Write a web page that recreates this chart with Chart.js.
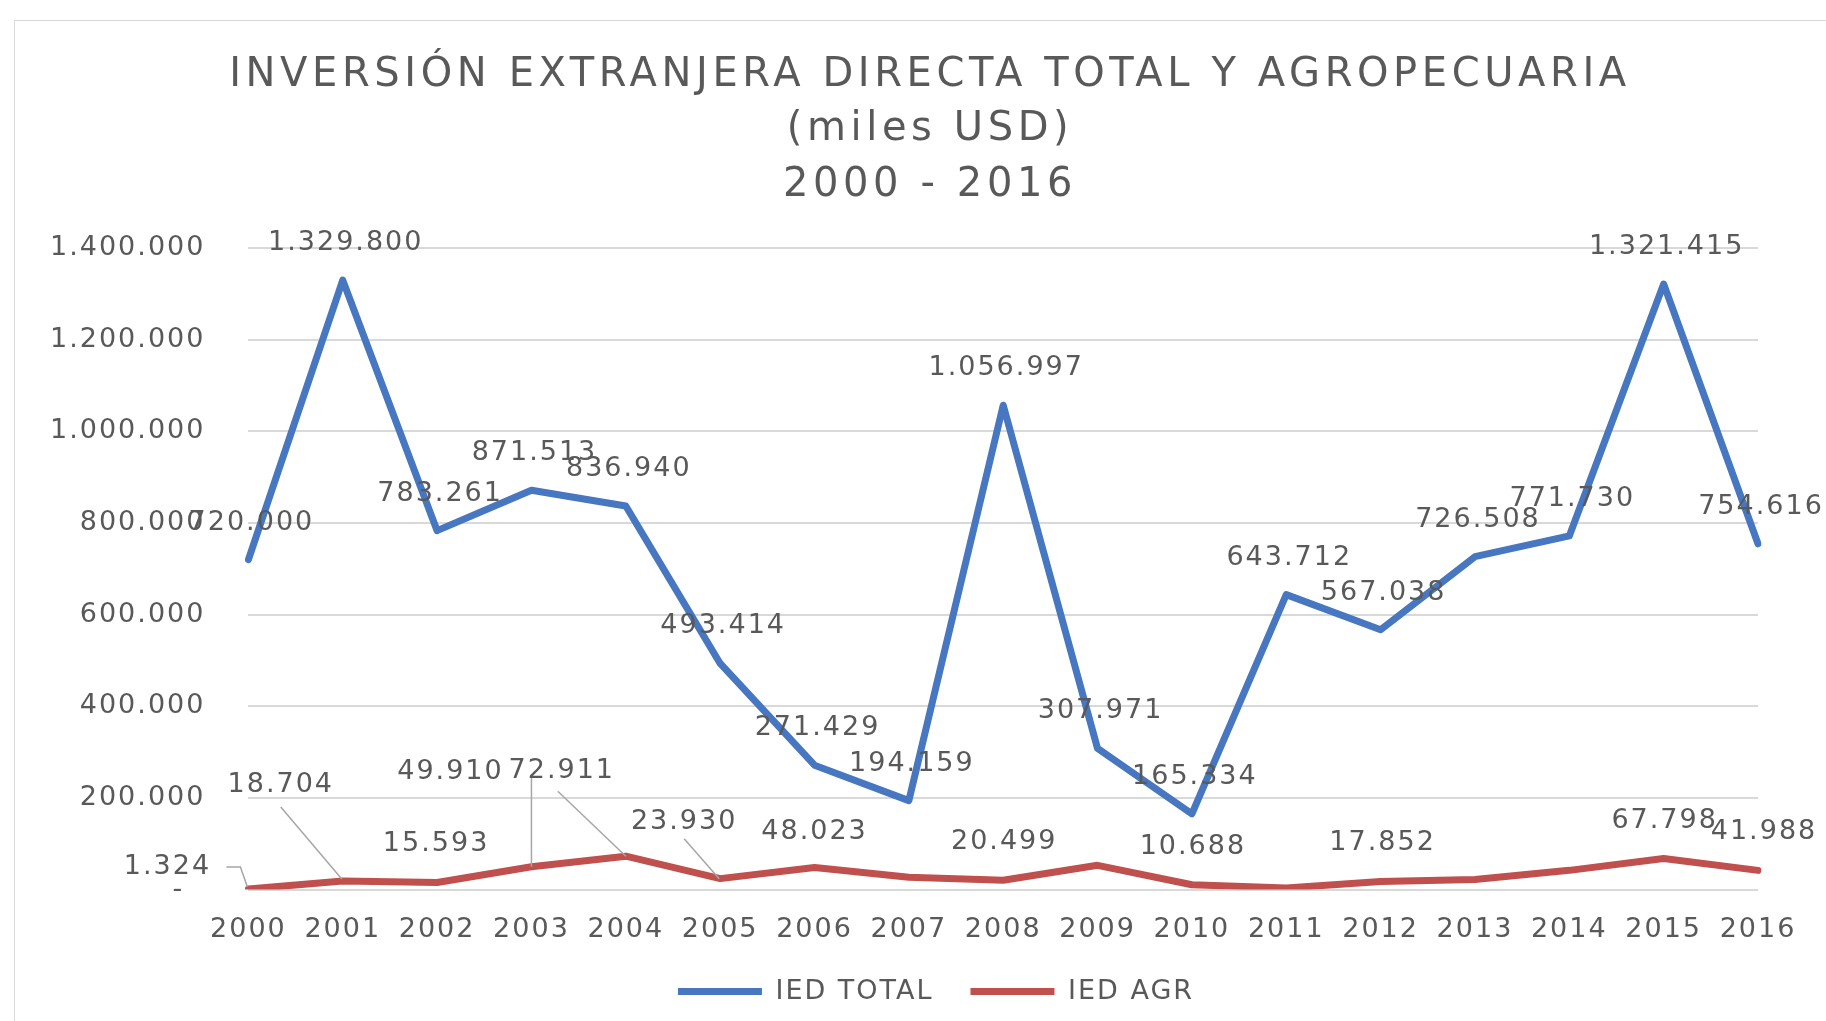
<!DOCTYPE html>
<html>
<head>
<meta charset="utf-8">
<script src="https://cdn.jsdelivr.net/npm/chart.js@4.4.1/dist/chart.umd.min.js"></script>
<style>
    html, body { margin: 0; padding: 0; background: #fff; overflow: hidden; width: 1826px; height: 1021px; }
    #box { position: absolute; left: 14px; top: 20px; width: 1826px; height: 1010px; border: 1px solid #d9d9d9; }
</style>
</head>
<body>
<div id="box"><canvas id="iedChart"></canvas></div>
<script>
// datos (miles USD)
const years = ["2000", "2001", "2002", "2003", "2004", "2005", "2006", "2007", "2008",
    "2009", "2010", "2011", "2012", "2013", "2014", "2015", "2016"];
const iedTotal = [720000, 1329800, 783261, 871513, 836940, 493414, 271429, 194159, 1056997,
    307971, 165334, 643712, 567038, 726508, 771730, 1321415, 754616];
const iedAgr = [1324, 18704, 15593, 49910, 72911, 23930, 48023, 27000, 20499,
    53000, 10688, 3500, 17852, 22000, 42000, 67798, 41988];
const seriesNames = ["IED TOTAL", "IED AGR"];
const titleLines = ["INVERSIÓN EXTRANJERA DIRECTA TOTAL Y AGROPECUARIA", "(miles USD)", "2000 - 2016"];

const BLUE = "#4677c0";
const RED = "#c0504d";
const GREY = "#595959";

// posicion de las etiquetas rojas respecto al punto (null = sin etiqueta)
const agrLabelPos = [
    { dx: -81, dy: -22, leader: [[-22, -22], [-8, -22], [-1, -2]] },
    { dx: -62, dy: -96, leader: [[-62, -74], [-1, -2]] },
    { dx: -1, dy: -38 },
    { dx: -81, dy: -95, leader: [[0, -92], [0, 0]] },
    { dx: -64, dy: -85, leader: [[-68, -65], [0, 0]] },
    { dx: -36, dy: -57, leader: [[-36, -40], [-1, 0]] },
    { dx: 0, dy: -36 },
    null,
    { dx: 1, dy: -38 },
    null,
    { dx: 1, dy: -38 },
    null,
    { dx: 2, dy: -38 },
    null,
    null,
    { dx: 1, dy: -38 },
    { dx: 6, dy: -38 },
];

function miles(v) {
    return String(Math.round(v)).replace(/\B(?=(\d{3})+(?!\d))/g, ".");
}

Chart.defaults.font.family = '"DejaVu Sans"';
Chart.defaults.color = GREY;

// texto un poco mas ancho, como en el original
const textSpacing = {
    id: "textSpacing",
    beforeUpdate(chart) { chart.ctx.letterSpacing = "2px"; },
    beforeDraw(chart) { chart.ctx.letterSpacing = "2px"; },
    afterLayout(chart) {
        // leyenda centrada como en el original
        chart.legend.left += 32;
        chart.legend.right += 32;
        chart.legend.top -= 5;
        chart.legend.bottom -= 5;
    },
};

const labelsAndTitle = {
    id: "labelsAndTitle",
    afterDatasetsDraw(chart) {
        const ctx = chart.ctx;
        ctx.save();
        ctx.fillStyle = GREY;
        ctx.font = '27px "DejaVu Sans"';
        ctx.textAlign = "center";
        ctx.textBaseline = "middle";
        ctx.letterSpacing = "2px";

        chart.getDatasetMeta(0).data.forEach((pt, i) => {
            ctx.fillText(miles(iedTotal[i]), pt.x + 3, pt.y - 37);
        });

        ctx.strokeStyle = "#a6a6a6";
        ctx.lineWidth = 1.5;
        chart.getDatasetMeta(1).data.forEach((pt, i) => {
            const p = agrLabelPos[i];
            if (!p) return;
            if (p.leader) {
                ctx.beginPath();
                p.leader.forEach(([lx, ly], k) => {
                    if (k === 0) ctx.moveTo(pt.x + lx, pt.y + ly);
                    else ctx.lineTo(pt.x + lx, pt.y + ly);
                });
                ctx.stroke();
            }
            ctx.fillText(miles(iedAgr[i]), pt.x + p.dx, pt.y + p.dy);
        });

        ctx.font = '40px "DejaVu Sans"';
        ctx.letterSpacing = "4.6px";
        const titleY = [55, 109, 165];
        titleLines.forEach((t, i) => ctx.fillText(t, chart.width / 2 + 2, titleY[i]));
        ctx.restore();
    },
};

new Chart(document.getElementById("iedChart"), {
    type: "line",
    data: {
        labels: years,
        datasets: [
            {
                label: seriesNames[0],
                data: iedTotal,
                borderColor: BLUE,
                backgroundColor: BLUE,
                borderWidth: 7,
                pointRadius: 0,
                tension: 0,
                borderJoinStyle: "round",
                borderCapStyle: "round",
            },
            {
                label: seriesNames[1],
                data: iedAgr,
                borderColor: RED,
                backgroundColor: RED,
                borderWidth: 7,
                pointRadius: 0,
                tension: 0,
                borderJoinStyle: "round",
                borderCapStyle: "round",
            },
        ],
    },
    options: {
        responsive: true,
        maintainAspectRatio: false,
        animation: false,
        layout: { padding: { top: 227, left: 35, right: 83, bottom: 11 } },
        plugins: {
            title: { display: false },
            tooltip: { enabled: false },
            legend: {
                position: "bottom",
                labels: {
                    usePointStyle: true,
                    pointStyle: "line",
                    pointStyleWidth: 84,
                    padding: 37,
                    color: GREY,
                    font: { size: 27 },
                },
            },
        },
        scales: {
            x: {
                offset: false,
                grid: { display: false },
                border: { display: false },
                ticks: { color: GREY, padding: 16, font: { size: 27 }, maxRotation: 0, autoSkip: false },
                afterFit: (s) => { s.height -= 16; },
            },
            y: {
                min: 0,
                max: 1400000,
                grid: { color: "#d9d9d9", lineWidth: 2, drawTicks: false },
                border: { display: false },
                ticks: {
                    stepSize: 200000,
                    padding: 43,
                    color: GREY,
                    font: { size: 27 },
                    callback: (v) => (v === 0 ? "-  " : miles(v)),
                },
                afterFit: (s) => { s.width -= 43; },
            },
        },
    },
    plugins: [textSpacing, labelsAndTitle],
});
</script>
</body>
</html>
